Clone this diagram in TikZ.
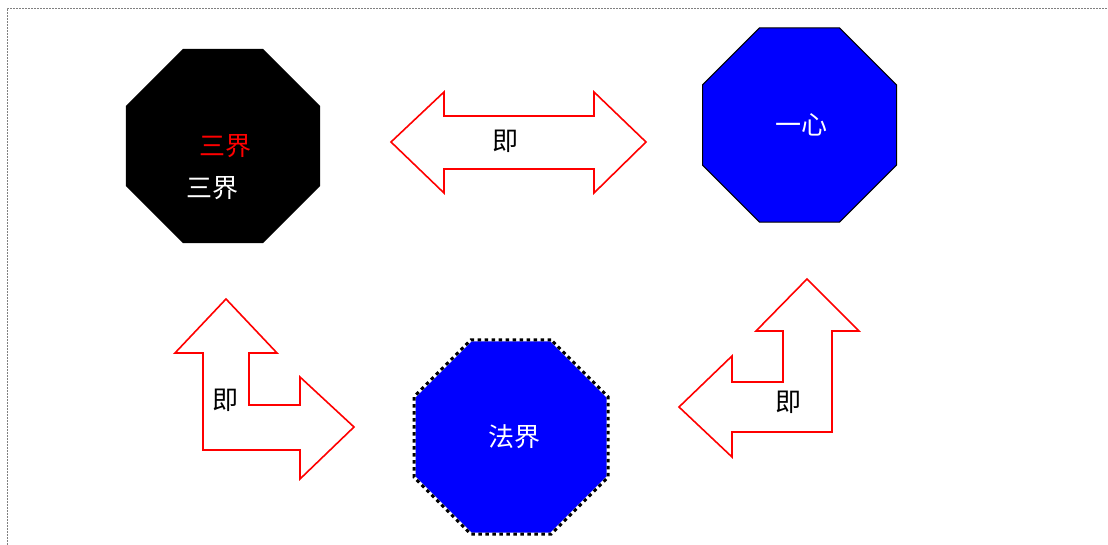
\documentclass[tikz,border=0pt]{standalone}
\usepackage{fontspec}
\newfontfamily\cjk{Noto Sans CJK SC}
\usetikzlibrary{shapes.geometric}
\begin{document}
\begin{tikzpicture}[x=1pt,y=-1pt,
  octo/.style={regular polygon, regular polygon sides=8, minimum size=210pt, inner sep=0pt, outer sep=0pt},
  lbl/.style={font=\cjk\fontsize{26}{30}\selectfont, inner sep=0pt},
  arrowshape/.style={draw=red, line width=1.6pt, fill=white, line join=miter}]
\useasboundingbox (0,0) rectangle (1108,545);
% page frame
\draw[gray, line width=0.8pt, dash pattern=on 2pt off 1pt] (7,560) -- (7,8) -- (1120,8);
% octagons
\node[octo, fill=black] (sanjie) at (223,146) {};
\node[lbl, text=red] (sanjieR) at (225,146) {三界};
\node[lbl, text=white] (sanjieW) at (212,188) {三界};
\node[octo, fill=blue, draw=black, line width=1pt] (yixin) at (799.5,125) {};
\node[lbl, text=white] (yixinT) at (801,125) {一心};
\node[octo, fill=blue, draw=white, line width=3pt] (fajie) at (511,437) {};
\draw[black, line width=3pt, dash pattern=on 3.5pt off 3.5pt] (fajie.corner 1) -- (fajie.corner 2) -- (fajie.corner 3) -- (fajie.corner 4) -- (fajie.corner 5) -- (fajie.corner 6) -- (fajie.corner 7) -- (fajie.corner 8) -- cycle;
\node[lbl, text=white] (fajieT) at (514,437) {法界};
% double arrow
\draw[arrowshape] (391,142) -- (444,92) -- (444,116) -- (594,116) -- (594,92) -- (646,142) -- (594,193) -- (594,169) -- (444,169) -- (444,193) -- cycle;
\node[lbl] (ji1) at (505,141) {即};
% bent arrow left
\draw[arrowshape] (226,299) -- (277,353) -- (249,353) -- (249,405) -- (300,405) -- (300,377) -- (354,427) -- (300,479) -- (300,450) -- (203,450) -- (203,353) -- (175,353) -- cycle;
\node[lbl] (ji2) at (225,400) {即};
% bent arrow right
\draw[arrowshape] (807,279) -- (859,331) -- (832,331) -- (832,432) -- (732,432) -- (732,457) -- (679,407) -- (732,356) -- (732,382) -- (783,382) -- (783,331) -- (756,331) -- cycle;
\node[lbl] (ji3) at (788,402) {即};
\end{tikzpicture}
\end{document}
